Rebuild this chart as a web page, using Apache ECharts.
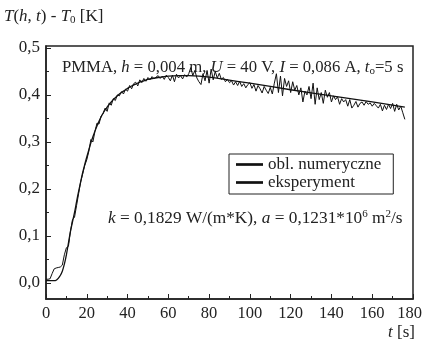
<!DOCTYPE html>
<html><head><meta charset="utf-8">
<script src="https://cdn.jsdelivr.net/npm/echarts@6/dist/echarts.min.js"></script>
<style>html,body{margin:0;padding:0;background:#fff}#c{width:424px;height:339px}</style>
</head><body><div id="c"></div>
<script>
// ---- data ----
const numT = [0,2,4,5,6,7,8,9,10,11,12,13,14,15,16,17,18,19,20,21,22,23,24,25,26,27,28,29,30,31,32,33,34,35,36,37,38,39,40,42,44,46,48,50,55,60,65,70,75,80,100,120,140,160,176];
const numV = [0.005,0.005,0.005,0.006,0.01,0.016,0.025,0.04,0.06,0.085,0.11,0.13,0.15,0.173,0.195,0.215,0.235,0.252,0.268,0.283,0.298,0.311,0.323,0.334,0.344,0.353,0.361,0.368,0.374,0.38,0.385,0.39,0.394,0.398,0.402,0.405,0.408,0.411,0.414,0.419,0.423,0.427,0.43,0.433,0.437,0.44,0.441,0.441,0.44,0.438,0.425,0.411,0.398,0.385,0.374];
const expV = [0.008,0.008,0.009,0.02,0.03,0.032,0.033,0.034,0.038,0.06,
0.075,0.078,0.11,0.135,0.14,0.165,0.19,0.215,0.232,0.25,
0.262,0.28,0.305,0.3,0.322,0.34,0.338,0.355,0.36,0.372,
0.365,0.383,0.378,0.392,0.388,0.4,0.398,0.407,0.402,0.412,
0.408,0.42,0.413,0.424,0.427,0.419,0.432,0.426,0.435,0.429,
0.437,0.432,0.439,0.434,0.438,0.441,0.435,0.44,0.433,0.442,
0.437,0.43,0.442,0.428,0.444,0.436,0.441,0.434,0.443,0.438,
0.445,0.458,0.441,0.452,0.436,0.428,0.422,0.445,0.43,0.452,
0.425,0.455,0.432,0.45,0.436,0.446,0.433,0.437,0.428,0.433,
0.426,0.43,0.421,0.428,0.42,0.429,0.418,0.424,0.415,0.422,
0.426,0.414,0.422,0.408,0.42,0.413,0.404,0.418,0.41,0.403,
0.416,0.402,0.425,0.445,0.405,0.44,0.398,0.435,0.418,0.43,
0.405,0.428,0.41,0.42,0.4,0.415,0.385,0.408,0.4,0.418,
0.392,0.425,0.38,0.415,0.39,0.405,0.382,0.41,0.395,0.405,
0.385,0.398,0.39,0.396,0.38,0.392,0.385,0.39,0.376,0.39,
0.372,0.378,0.386,0.374,0.382,0.385,0.378,0.386,0.38,0.383,
0.376,0.382,0.377,0.372,0.38,0.366,0.378,0.369,0.38,0.371,
0.382,0.365,0.38,0.368,0.376,0.362,0.348];
const xTicks = [0,20,40,60,80,100,120,140,160,180];
const yTicks = [0,0.1,0.2,0.3,0.4,0.5];
const yMinor = [0.05,0.15,0.25,0.35,0.45];
const legendNames = ['obl. numeryczne','eksperyment'];

// ---- chart ----
const F = 'Liberation Serif';
const FS = 17;
const chart = echarts.init(document.getElementById('c'), null, {renderer:'canvas'});
const numData = numT.map((t,i)=>[t,numV[i]]);
const expData = expV.map((v,i)=>[i,v]);
function mkRich(fs){
  return {
    n:{fontFamily:F,fontSize:fs,fill:'#222',lineHeight:18},
    i:{fontFamily:F,fontSize:fs,fontStyle:'italic',fill:'#222',lineHeight:18},
    sub:{fontFamily:F,fontSize:11,fill:'#222',lineHeight:10,verticalAlign:'bottom'},
    sup:{fontFamily:F,fontSize:11,fill:'#222',lineHeight:10,verticalAlign:'top'}
  };
}
const axisCol = '#222';
const lastX = xTicks[xTicks.length-1];
chart.setOption({
  animation:false,
  backgroundColor:'#fff',
  grid:{left:46,top:46,right:11,bottom:40,outerBoundsMode:'none',containLabel:false,
    show:true,borderColor:axisCol,borderWidth:1.5,backgroundColor:'transparent'},
  xAxis:{type:'value',min:0,max:180,interval:20,
    axisLine:{onZero:false,lineStyle:{color:axisCol,width:1.5}},
    axisTick:{inside:true,length:5,lineStyle:{color:axisCol}},
    minorTick:{show:true,splitNumber:2,length:3,lineStyle:{color:axisCol}},
    splitLine:{show:false},
    axisLabel:{fontFamily:F,fontSize:16.5,color:'#222',margin:6,
      customValues:xTicks,
      formatter:v=>v===lastX?'{r|'+v+'}':String(v),
      rich:{r:{fontFamily:F,fontSize:16.5,color:'#222',padding:[0,7,0,0]}}}},
  yAxis:[{type:'value',min:-0.034,max:0.504,
    axisLine:{show:true,onZero:false,lineStyle:{color:axisCol,width:1.5}},
    axisTick:{show:true,inside:true,length:5,customValues:yTicks,lineStyle:{color:axisCol}},
    splitLine:{show:false},
    axisLabel:{fontFamily:F,fontSize:FS,color:'#222',margin:6,customValues:yTicks,
      formatter:v=>v.toFixed(1).replace('.',',')}},
    {type:'value',min:-0.034,max:0.504,position:'left',
    axisLine:{show:false},
    axisTick:{show:true,inside:true,length:3,customValues:yMinor,lineStyle:{color:axisCol}},
    splitLine:{show:false},axisLabel:{show:false}}],
  legend:{left:229,top:154,orient:'vertical',borderColor:axisCol,borderWidth:1,
    padding:[2,12,3,7],itemGap:1,itemWidth:27,itemHeight:12,
    textStyle:{fontFamily:F,fontSize:FS,color:'#222',lineHeight:17},
    data:legendNames.map(n=>({name:n,icon:'path://M0,5L10,5L10,6L0,6Z'}))},
  series:[
    {name:legendNames[0],type:'line',data:numData,smooth:0.3,showSymbol:false,
     lineStyle:{color:'#111',width:1.3},itemStyle:{color:'#111'}},
    {name:legendNames[1],type:'line',data:expData,showSymbol:false,
     lineStyle:{color:'#111',width:1},itemStyle:{color:'#111'}}
  ],
  graphic:[
    {type:'text',left:4,top:8,style:{rich:mkRich(17),
      text:'{i|T}{n|(}{i|h}{n|, }{i|t}{n|) - }{i|T}{sub|0}{n| [K]}'}},
    {type:'text',right:9,top:324,style:{rich:mkRich(17),
      text:'{i|t}{n| [s]}'}},
    {type:'text',left:62,top:59,style:{rich:mkRich(16.7),
      text:'{n|PMMA, }{i|h}{n| = 0,004 m, }{i|U}{n| = 40 V, }{i|I}{n| = 0,086 A, }{i|t}{sub|o}{n|=5 s}'}},
    {type:'text',left:108,top:209,style:{rich:mkRich(17.3),
      text:'{i|k}{n| = 0,1829 W/(m*K), }{i|a}{n| = 0,1231*10}{sup|6}{n| m}{sup|2}{n|/s}'}}
  ]
});
</script></body></html>
